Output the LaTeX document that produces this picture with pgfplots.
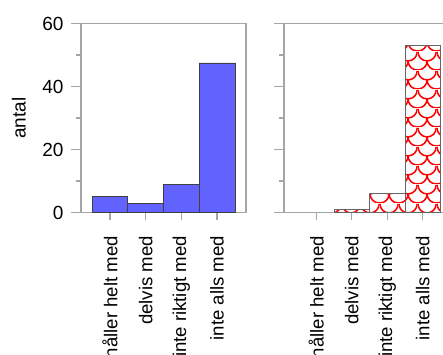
\documentclass[border=0pt]{standalone}
\usepackage{pgfplots}
\pgfplotsset{compat=1.18}
\usepackage{fontspec}
\setmainfont{Liberation Sans}
\usetikzlibrary{patterns.meta}
\definecolor{barblue}{RGB}{98,98,255}
\definecolor{axgray}{RGB}{165,165,165}
\tikzdeclarepattern{name=scales, type=uncolored,
  bounding box={(0pt,0pt) and (19pt,19pt)},
  tile size={(19pt,19pt)},
  code={
    \draw[line width=1.6pt] (0pt,19pt) arc[start angle=180,end angle=360,radius=9.5pt];
    \draw[line width=1.6pt] (-9.5pt,9.5pt) arc[start angle=180,end angle=360,radius=9.5pt];
    \draw[line width=1.6pt] (9.5pt,9.5pt) arc[start angle=180,end angle=360,radius=9.5pt];
  }}
\pgfplotsset{panel/.style={
  scale only axis, width=165pt, height=189pt,
  ymin=0, ymax=60, ytick={0,20,40,60}, minor ytick={10,30,50},
  xtick={1,2,3,4},
  xticklabels={håller helt med, delvis med, inte riktigt med, inte alls med},
  tick align=outside, tick pos=left,
  major tick length=10pt, minor tick length=5pt,
  xtick style={/pgfplots/major tick length=7pt},
  axis line style={axgray, line width=1.3pt},
  tick style={axgray, line width=1.3pt},
  ticklabel style={font=\fontsize{19}{22}\selectfont},
  x tick label style={font=\fontsize{18.6}{22}\selectfont, yshift=-10pt, rotate=90, anchor=east},
  y tick label style={xshift=-4pt},
  /pgf/number format/assume math mode=true,
  ybar, bar width=1, bar shift=0pt,
}}
\begin{document}
\begin{tikzpicture}[x=1pt,y=1pt]
\path[use as bounding box] (0,0) rectangle (443,354);
\clip (0,0) rectangle (443,354);
\begin{axis}[panel, at={(81pt,141.5pt)}, anchor=south west,
  xmin=0.19, xmax=4.81,
  ylabel={antal},
  ylabel style={font=\fontsize{19}{22}\selectfont, at={(axis description cs:-0.376,0.5)}, anchor=center}]
\addplot[fill=barblue, draw=black!75, line width=0.6pt] coordinates {(1,5) (2,3) (3,9) (4,47.5)};
\end{axis}
\begin{axis}[panel, at={(284pt,141.5pt)}, anchor=south west,
  xmin=0.09, xmax=4.74, yticklabels={}]
\addplot[pattern=scales, pattern color=red, draw=black!60, line width=0.6pt] coordinates {(2,1) (3,6) (4,53)};
\end{axis}
\end{tikzpicture}
\end{document}
